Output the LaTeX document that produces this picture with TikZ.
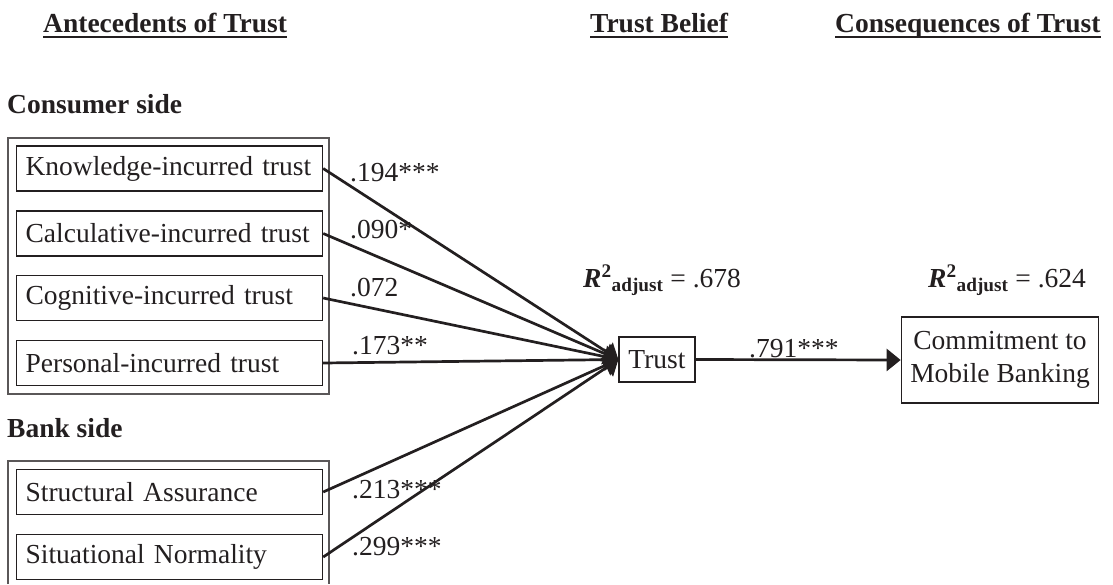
\documentclass[tikz,border=0pt]{standalone}
\usepackage{fontspec}
\setmainfont{Liberation Serif}
\usetikzlibrary{arrows.meta}
\definecolor{ink}{HTML}{231F20}
\begin{document}
\begin{tikzpicture}[x=1pt,y=-1pt,
  every node/.style={font=\fontsize{27.5}{33}\selectfont, text=ink},
  txt/.style={inner sep=0pt, anchor=base west},
  head/.style={txt, font=\fontsize{27.5}{33}\selectfont\bfseries},
  ubar/.style={draw=ink, line width=1.6pt},
  srcbox/.style={draw=ink, line width=1.2pt, anchor=west, text width=288pt, inner xsep=9pt, inner ysep=0pt, minimum height=45pt, align=left},
  grpbox/.style={draw=ink!75, line width=1.2pt},
  mainbox/.style={draw=ink, line width=1.2pt, inner xsep=9pt, inner ysep=0pt, align=center},
  conn/.style={draw=ink, line width=2.7pt, -{Triangle[length=14pt,width=22pt]}},
]
\useasboundingbox (0,0) rectangle (1113,584);

% headers
\node[head] (h1) at (43,32) {Antecedents of Trust};
\node[head] (h2) at (590,32) {Trust Belief};
\node[head] (h3) at (835,32) {Consequences of Trust};
\foreach \h in {h1,h2,h3}
  \draw[ubar] ([yshift=-5pt]\h.base west) -- ([yshift=-5pt]\h.base east);

% group titles
\node[head] (cs) at (7,113) {Consumer side};
\node[head] (bs) at (7,437) {Bank side};

% group boxes
\draw[grpbox] (8,138) rectangle (329,394);
\draw[grpbox] (8,584) -- (8,461) -- (329,461) -- (329,584);

% source boxes
\node[srcbox] (k) at (16,168.5) {Knowledge-incurred trust};
\node[srcbox] (c) at (16,233.5) {Calculative-incurred trust};
\node[srcbox] (g) at (16,298) {Cognitive-incurred trust};
\node[srcbox] (p) at (16,363) {Personal-incurred trust};
\node[srcbox] (s) at (16,492) {Structural Assurance};
\node[srcbox] (n) at (16,557) {Situational Normality};

% main boxes
\node[mainbox, minimum width=76pt, minimum height=45pt] (t) at (657,359.5) {Trust};
\node[mainbox, minimum width=190pt, minimum height=86pt] (m) at (1000,360) {Commitment to\\Mobile Banking};

% connectors
\foreach \a in {k,c,g,p,s,n}
  \draw[conn] (\a.east) -- (t.west);
\draw[conn] (t.east) -- (m.west);

% path coefficients
\node[txt] (l1) at (350,181) {.194***};
\node[txt] (l2) at (350,238) {.090*};
\node[txt] (l3) at (350,296) {.072};
\node[txt] (l4) at (352,354) {.173**};
\node[txt] (l5) at (352,498) {.213***};
\node[txt] (l6) at (352,555) {.299***};
\node[txt] (l7) at (749,357) {.791***};

% R squared
\node[txt] (r1) at (583,287) {\textbf{\textit{R}}\textsuperscript{\textbf{2}}\textsubscript{\textbf{adjust}} = .678};
\node[txt] (r2) at (928,287) {\textbf{\textit{R}}\textsuperscript{\textbf{2}}\textsubscript{\textbf{adjust}} = .624};
\end{tikzpicture}
\end{document}
